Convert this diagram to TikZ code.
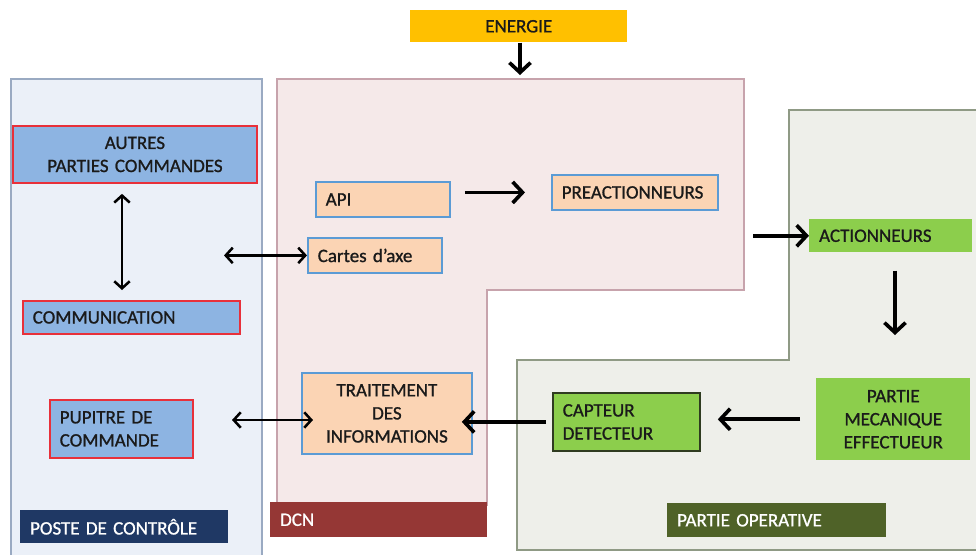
\documentclass[tikz,border=0pt]{standalone}
\usepackage{fontspec}
\setmainfont{Carlito}[FakeBold=1]
\usetikzlibrary{arrows.meta}
\newcommand{\px}{0.025cm}
\definecolor{txtgray}{HTML}{1A1A1A}
\definecolor{posteback}{HTML}{EBF0F8}
\definecolor{posteline}{HTML}{9AAAC2}
\definecolor{dcnback}{HTML}{F5E9E9}
\definecolor{dcnline}{HTML}{C7A3AC}
\definecolor{poback}{HTML}{EEEFEA}
\definecolor{poline}{HTML}{8F9A85}
\definecolor{bluebox}{HTML}{8DB4E2}
\definecolor{redline}{HTML}{E8303A}
\definecolor{peach}{HTML}{FBD4B4}
\definecolor{blueline}{HTML}{5B9BD5}
\definecolor{greenbox}{HTML}{8CCE4C}
\definecolor{darkgreen}{HTML}{2F3B20}
\definecolor{energ}{HTML}{FFC000}
\definecolor{navy}{HTML}{1F3864}
\definecolor{dcnred}{HTML}{953735}
\definecolor{olive}{HTML}{4F6228}

\begin{document}
\begin{tikzpicture}[x=0.025cm,y=-0.025cm,
  every node/.style={font=\fontsize{13.5}{16.4}\selectfont, text=txtgray},
  bx/.style 2 args={anchor=north west, inner xsep=7pt, inner ysep=0pt,
    minimum width=#1*\px, text width=#1*\px-14pt, minimum height=#2*\px},
  cmd/.style={fill=bluebox, draw=redline, line width=1.3pt},
  dcnbox/.style={fill=peach, draw=blueline, line width=1.3pt},
  opbox/.style={fill=greenbox},
  lab/.style={text=white},
  arr/.style={line width=2.6pt, -{Straight Barb[length=7pt,width=15pt]}},
  dbl/.style={line width=1.8pt, {Straight Barb[length=5pt,width=11pt]}-{Straight Barb[length=5pt,width=11pt]}}]
\useasboundingbox (0,0) rectangle (976,554);
% zones
\draw[fill=posteback, draw=posteline, line width=1.2pt] (11,79) rectangle (262,570);
\draw[fill=dcnback, draw=dcnline, line width=1.2pt] (277,79) -- (744,79) -- (744,290) -- (487,290) -- (487,505) -- (277,505) -- cycle;
\draw[fill=poback, draw=poline, line width=1.2pt] (789,110) -- (990,110) -- (990,550) -- (517,550) -- (517,360) -- (789,360) -- cycle;
% zone labels
\node[bx={208}{33}, lab, fill=navy, align=left] (lposte) at (20,510) {POSTE DE CONTRÔLE};
\node[bx={217}{35}, lab, fill=dcnred, align=left] (ldcn) at (270,502) {DCN};
\node[bx={219}{34}, lab, fill=olive, align=left] (lpo) at (667,503) {PARTIE OPERATIVE};
% energie
\node[bx={217}{32}, fill=energ, align=center] (energie) at (410,10) {ENERGIE};
% poste de controle
\node[bx={244}{57}, cmd, align=center] (autres) at (12,125) {AUTRES\\PARTIES COMMANDES};
\node[bx={217}{33}, cmd, align=left] (comm) at (22,300) {COMMUNICATION};
\node[bx={143}{58}, cmd, align=left] (pupitre) at (49,399) {PUPITRE DE\\COMMANDE};
% DCN
\node[bx={134}{35}, dcnbox, align=left] (api) at (315,181) {API};
\node[bx={134}{35}, dcnbox, align=left] (cartes) at (307,237) {Cartes d’axe};
\node[bx={166}{35}, dcnbox, align=left] (preact) at (551,174) {PREACTIONNEURS};
\node[bx={170}{81}, dcnbox, align=center] (trait) at (301,372) {TRAITEMENT\\DES\\INFORMATIONS};
% partie operative
\node[bx={163}{33}, opbox, align=left] (act) at (809,219) {ACTIONNEURS};
\node[bx={154}{82}, opbox, align=center] (meca) at (816,378) {PARTIE\\MECANIQUE\\EFFECTUEUR};
\node[bx={147}{58}, opbox, draw=darkgreen, line width=1.3pt, align=left] (capt) at (552,392) {CAPTEUR\\DETECTEUR};
% connexions
\coordinate (ax) at (122,0);
\coordinate (cl) at (224,0);
\coordinate (pl) at (232,420);
\coordinate (ain) at (753,0);
\coordinate (ox) at (895,0);
\coordinate (etip) at (520,75);
\draw[arr] (energie.south -| etip) -- (etip);
\draw[dbl, shorten <=10*\px, shorten >=10*\px] (autres.south -| ax) -- (comm.north -| ax);
\draw[dbl] (cartes.west -| cl) -- (cartes.west);
\draw[arr, shorten <=14*\px, shorten >=26*\px] (api.east |- preact.west) -- (preact.west);
\draw[arr] (act.west -| ain) -- (act.west);
\draw[arr, shorten <=18*\px, shorten >=43*\px] (act.south -| ox) -- (meca.north -| ox);
\draw[arr, shorten <=16*\px, shorten >=17*\px] (meca.west) -- (capt.east |- meca.west);
\draw[arr, shorten <=6*\px, shorten >=-11*\px] (capt.west) -- (trait.east |- capt.west);
\draw[dbl, shorten >=-12*\px] (pl) -- (trait.west |- pl);
\end{tikzpicture}
\end{document}
